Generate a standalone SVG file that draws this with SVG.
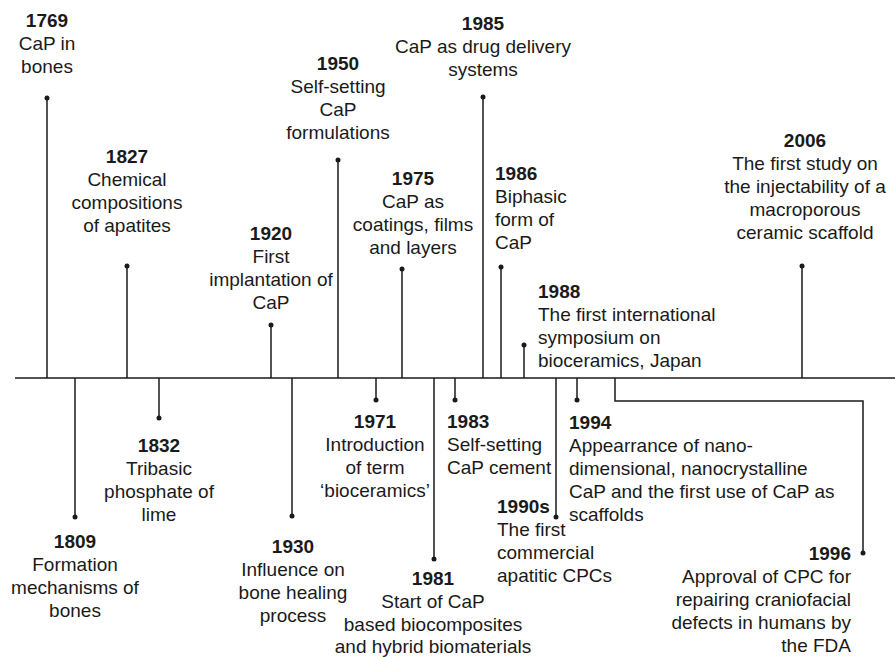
<svg xmlns="http://www.w3.org/2000/svg" width="895" height="657" viewBox="0 0 895 657">
<style>
text{font-family:"Liberation Sans",Arial,sans-serif;font-size:19px;fill:#1a1a1a}
.y{font-weight:bold}
.c{text-anchor:middle}
.r{text-anchor:end}
.ln{stroke:#1a1a1a;stroke-width:1.5;fill:none}
.d{fill:#1a1a1a}
</style>
<rect width="895" height="657" fill="#fff"/>
<g id="connectors">
<line class="ln" x1="15" y1="378" x2="895" y2="378"/>
<line class="ln" x1="47" y1="98" x2="47" y2="378"/>
<line class="ln" x1="127" y1="266" x2="127" y2="378"/>
<line class="ln" x1="271" y1="325" x2="271" y2="378"/>
<line class="ln" x1="338" y1="160" x2="338" y2="378"/>
<line class="ln" x1="402" y1="269" x2="402" y2="378"/>
<line class="ln" x1="483" y1="97" x2="483" y2="378"/>
<line class="ln" x1="501" y1="267" x2="501" y2="378"/>
<line class="ln" x1="524" y1="345" x2="524" y2="378"/>
<line class="ln" x1="802" y1="266" x2="802" y2="378"/>
<line class="ln" x1="75" y1="378" x2="75" y2="517"/>
<line class="ln" x1="159" y1="378" x2="159" y2="418"/>
<line class="ln" x1="292" y1="378" x2="292" y2="516"/>
<line class="ln" x1="376" y1="378" x2="376" y2="400"/>
<line class="ln" x1="434" y1="378" x2="434" y2="559"/>
<line class="ln" x1="455" y1="378" x2="455" y2="400"/>
<line class="ln" x1="556" y1="378" x2="556" y2="517"/>
<line class="ln" x1="577" y1="378" x2="577" y2="400"/>
<polyline class="ln" points="615,378 615,401 863,401 863,553"/>
<g class="d">
<circle cx="47" cy="98" r="2.5"/><circle cx="127" cy="266" r="2.5"/><circle cx="271" cy="325" r="2.5"/>
<circle cx="338" cy="160" r="2.5"/><circle cx="402" cy="269" r="2.5"/><circle cx="483" cy="97" r="2.5"/>
<circle cx="501" cy="267" r="2.5"/><circle cx="524" cy="345" r="2.5"/><circle cx="802" cy="266" r="2.5"/>
<circle cx="75" cy="517" r="2.5"/><circle cx="159" cy="418" r="2.5"/><circle cx="292" cy="516" r="2.5"/>
<circle cx="376" cy="400" r="2.5"/><circle cx="434" cy="559" r="2.5"/><circle cx="455" cy="400" r="2.5"/>
<circle cx="556" cy="517" r="2.5"/><circle cx="577" cy="400" r="2.5"/><circle cx="863" cy="553" r="2.5"/>
</g>
</g>
<g id="e1769"><text class="c" x="47" y="27"><tspan class="y">1769</tspan><tspan x="47" dy="23">CaP in</tspan><tspan x="47" dy="23">bones</tspan></text></g>
<g id="e1827"><text class="c" x="127" y="163"><tspan class="y">1827</tspan><tspan x="127" dy="23">Chemical</tspan><tspan x="127" dy="23">compositions</tspan><tspan x="127" dy="23">of apatites</tspan></text></g>
<g id="e1920"><text class="c" x="271" y="240"><tspan class="y">1920</tspan><tspan x="271" dy="23">First</tspan><tspan x="271" dy="23">implantation of</tspan><tspan x="271" dy="23">CaP</tspan></text></g>
<g id="e1950"><text class="c" x="338" y="70"><tspan class="y">1950</tspan><tspan x="338" dy="23">Self-setting</tspan><tspan x="338" dy="23">CaP</tspan><tspan x="338" dy="23">formulations</tspan></text></g>
<g id="e1975"><text class="c" x="413" y="185"><tspan class="y">1975</tspan><tspan x="413" dy="23">CaP as</tspan><tspan x="413" dy="23">coatings, films</tspan><tspan x="413" dy="23">and layers</tspan></text></g>
<g id="e1985"><text class="c" x="483" y="30"><tspan class="y">1985</tspan><tspan x="483" dy="23">CaP as drug delivery</tspan><tspan x="483" dy="23">systems</tspan></text></g>
<g id="e1986"><text x="495" y="180"><tspan class="y">1986</tspan><tspan x="495" dy="23">Biphasic</tspan><tspan x="495" dy="23">form of</tspan><tspan x="495" dy="23">CaP</tspan></text></g>
<g id="e1988"><text x="538" y="298"><tspan class="y">1988</tspan><tspan x="538" dy="23">The first international</tspan><tspan x="538" dy="23">symposium on</tspan><tspan x="538" dy="23">bioceramics, Japan</tspan></text></g>
<g id="e2006"><text class="c" x="805" y="147"><tspan class="y">2006</tspan><tspan x="805" dy="23">The first study on</tspan><tspan x="805" dy="23">the injectability of a</tspan><tspan x="805" dy="23">macroporous</tspan><tspan x="805" dy="23">ceramic scaffold</tspan></text></g>
<g id="e1809"><text class="c" x="75" y="548"><tspan class="y">1809</tspan><tspan x="75" dy="23">Formation</tspan><tspan x="75" dy="23">mechanisms of</tspan><tspan x="75" dy="23">bones</tspan></text></g>
<g id="e1832"><text class="c" x="159" y="452"><tspan class="y">1832</tspan><tspan x="159" dy="23">Tribasic</tspan><tspan x="159" dy="23">phosphate of</tspan><tspan x="159" dy="23">lime</tspan></text></g>
<g id="e1930"><text class="c" x="293" y="553"><tspan class="y">1930</tspan><tspan x="293" dy="23">Influence on</tspan><tspan x="293" dy="23">bone healing</tspan><tspan x="293" dy="23">process</tspan></text></g>
<g id="e1971"><text class="c" x="375" y="428"><tspan class="y">1971</tspan><tspan x="375" dy="23">Introduction</tspan><tspan x="375" dy="23">of term</tspan><tspan x="375" dy="23">‘bioceramics’</tspan></text></g>
<g id="e1981"><text class="c" x="433" y="585"><tspan class="y">1981</tspan><tspan x="433" dy="23">Start of CaP</tspan><tspan x="433" dy="23">based biocomposites</tspan><tspan x="433" dy="22">and hybrid biomaterials</tspan></text></g>
<g id="e1983"><text x="447" y="428"><tspan class="y">1983</tspan><tspan x="447" dy="23">Self-setting</tspan><tspan x="447" dy="23">CaP cement</tspan></text></g>
<g id="e1990s"><text x="497" y="513"><tspan class="y">1990s</tspan><tspan x="497" dy="23">The first</tspan><tspan x="497" dy="23">commercial</tspan><tspan x="497" dy="23">apatitic CPCs</tspan></text></g>
<g id="e1994"><text x="569" y="429"><tspan class="y">1994</tspan><tspan x="569" dy="23">Appearrance of nano-</tspan><tspan x="569" dy="23">dimensional, nanocrystalline</tspan><tspan x="569" dy="23">CaP and the first use of CaP as</tspan><tspan x="569" dy="23">scaffolds</tspan></text></g>
<g id="e1996"><text class="r" x="851" y="560"><tspan class="y">1996</tspan><tspan x="851" dy="23">Approval of CPC for</tspan><tspan x="851" dy="23">repairing craniofacial</tspan><tspan x="851" dy="23">defects in humans by</tspan><tspan x="851" dy="23">the FDA</tspan></text></g>
</svg>
